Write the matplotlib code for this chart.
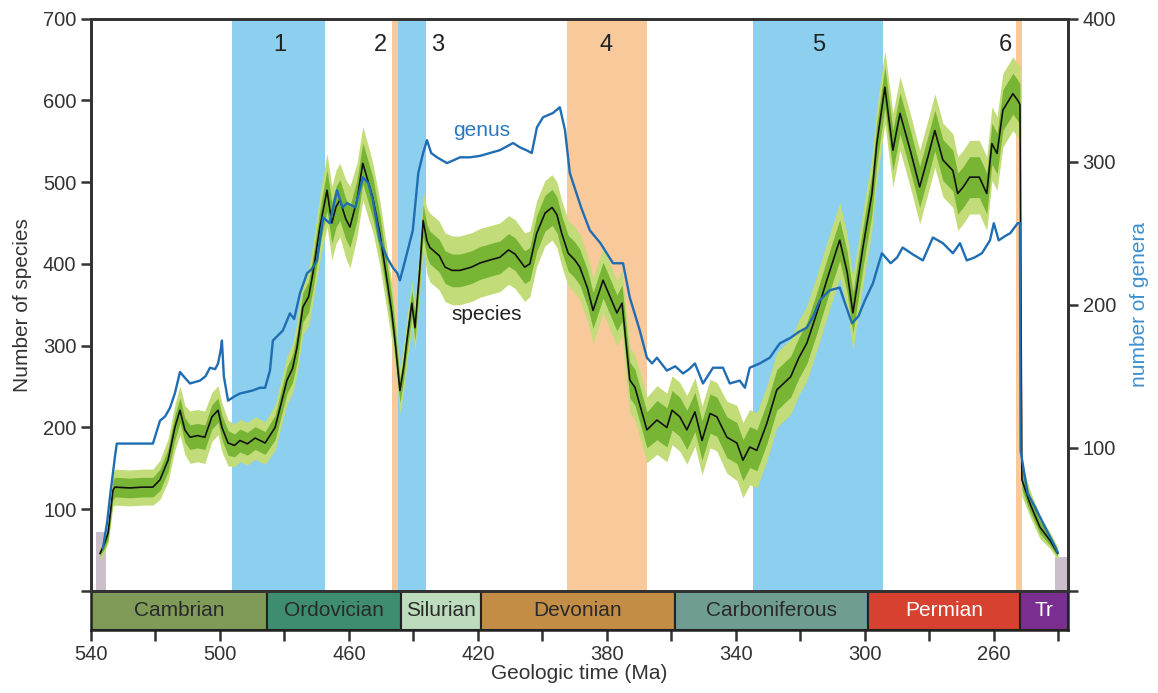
import numpy as np
import matplotlib.pyplot as plt

plt.rcParams['font.family'] = ['Liberation Sans', 'DejaVu Sans']

# Species richness (left axis) with inner / outer confidence half-widths
species_ma = [537.2, 535.8, 534.7, 533.2, 532.6, 528.0, 524.0, 520.8, 518.6, 516.1,
              514.0, 512.4, 510.9, 509.3, 507.0, 504.7, 502.5, 500.6, 499.4, 497.5,
              495.5, 493.8, 491.5, 489.1, 486.0, 482.9, 481.0, 479.2, 477.5, 476.1,
              474.3, 472.5, 471.2, 469.0, 466.8, 465.3, 464.0, 462.8, 461.0, 459.7,
              457.5, 455.7, 454.0, 452.6, 450.4, 448.2, 446.7, 445.5, 444.2, 443.0,
              442.0, 440.5, 439.5, 438.0, 437.0, 435.8, 434.9, 432.0, 430.2, 428.0,
              425.6, 422.0, 419.4, 416.0, 413.2, 410.5, 408.5, 405.5, 403.9, 401.8,
              399.2, 397.0, 395.5, 394.0, 392.0, 390.0, 388.4, 386.0, 384.3, 381.2,
              378.5, 376.9, 375.3, 372.9, 371.3, 367.6, 364.5, 361.4, 359.8, 357.4,
              355.2, 352.7, 350.5, 348.0, 345.9, 342.8, 339.7, 337.8, 335.7, 333.5,
              330.4, 327.3, 323.0, 320.5, 318.0, 314.9, 311.8, 307.8, 305.5, 303.7,
              300.6, 297.8, 296.3, 293.8, 291.3, 289.1, 286.0, 283.0, 280.5, 278.3,
              275.8, 272.7, 271.2, 269.5, 267.5, 264.5, 262.2, 260.6, 259.0, 257.2,
              254.1, 252.6, 251.9, 251.3, 248.8, 245.7, 242.6, 240.2]
species = [46, 58, 71, 123, 127, 126, 127, 127, 136, 160,
           200, 221, 197, 188, 190, 188, 213, 221, 200, 181,
           178, 184, 180, 187, 181, 200, 230, 258, 272, 298,
           347, 360, 388, 445, 490, 450, 470, 478, 455, 445,
           478, 523, 500, 481, 437, 380, 340, 298, 245, 274,
           307, 352, 322, 396, 453, 428, 420, 410, 396, 392,
           392, 396, 401, 405, 408, 417, 412, 396, 400, 437,
           462, 469, 460, 437, 413, 405, 396, 370, 343, 380,
           355, 340, 352, 258, 249, 197, 209, 200, 221, 213,
           197, 219, 184, 217, 213, 188, 181, 160, 176, 172,
           205, 246, 262, 285, 303, 340, 380, 429, 390, 340,
           420, 486, 547, 616, 539, 584, 540, 494, 530, 563,
           527, 514, 486, 494, 506, 506, 486, 547, 535, 588,
           608, 600, 595, 136, 107, 78, 62, 46]
species_dark = [4, 6, 8, 12, 12, 12, 12, 12, 13, 14,
                15, 15, 15, 15, 15, 15, 15, 15, 15, 15,
                14, 14, 14, 14, 14, 15, 16, 16, 17, 18,
                18, 19, 20, 22, 25, 25, 25, 25, 25, 25,
                25, 25, 25, 25, 22, 20, 20, 18, 15, 15,
                15, 16, 16, 18, 20, 20, 20, 20, 20, 20,
                20, 20, 20, 20, 20, 20, 20, 20, 20, 22,
                22, 22, 22, 22, 22, 22, 22, 22, 22, 22,
                22, 22, 22, 22, 22, 22, 24, 24, 24, 24,
                24, 24, 24, 24, 24, 25, 25, 25, 25, 25,
                25, 25, 25, 25, 25, 25, 25, 25, 25, 25,
                25, 25, 25, 25, 25, 25, 25, 25, 25, 25,
                25, 25, 25, 25, 25, 25, 25, 25, 25, 25,
                25, 25, 25, 12, 10, 8, 6, 4]
species_light = [8, 10, 12, 20, 22, 22, 22, 22, 24, 26,
                 28, 30, 30, 32, 32, 32, 30, 30, 30, 28,
                 26, 26, 26, 26, 26, 28, 28, 30, 30, 32,
                 34, 35, 36, 40, 45, 45, 45, 45, 48, 50,
                 45, 45, 44, 42, 40, 38, 35, 32, 28, 28,
                 28, 28, 28, 30, 35, 40, 42, 42, 42, 42,
                 42, 42, 42, 42, 42, 42, 42, 42, 40, 40,
                 40, 40, 40, 40, 40, 40, 40, 40, 40, 40,
                 40, 40, 40, 40, 40, 40, 42, 42, 42, 42,
                 42, 42, 42, 42, 42, 44, 46, 46, 46, 46,
                 46, 46, 46, 46, 46, 46, 46, 46, 46, 45,
                 45, 45, 45, 45, 45, 45, 45, 45, 45, 45,
                 45, 45, 45, 45, 45, 45, 45, 45, 45, 45,
                 45, 45, 45, 20, 16, 14, 10, 8]

# Genus richness (right axis)
genus_ma = [536.3, 535.0, 534.0, 532.5, 532.0, 526.0, 520.8, 518.6, 517.0, 515.5,
            514.0, 512.4, 510.5, 509.3, 506.2, 504.5, 503.1, 501.5, 500.6, 499.8,
            499.4, 498.8, 497.5, 495.5, 493.8, 490.0, 487.6, 486.0, 484.5, 483.6,
            480.5, 478.3, 477.0, 475.2, 473.0, 471.5, 469.9, 468.0, 466.0, 463.7,
            462.0, 460.6, 458.0, 455.7, 454.0, 452.6, 450.4, 448.2, 446.4, 445.0,
            444.2, 442.0, 440.2, 438.5, 437.0, 435.8, 434.5, 432.7, 429.6, 427.5,
            425.6, 422.5, 419.4, 416.3, 413.2, 409.1, 407.0, 405.0, 403.3, 401.7,
            399.8, 396.7, 394.6, 393.0, 391.5, 388.0, 385.3, 382.0, 378.1, 375.0,
            372.9, 369.8, 367.6, 366.0, 364.5, 361.4, 358.8, 356.4, 354.5, 352.7,
            350.2, 347.1, 344.0, 341.9, 338.8, 337.2, 335.7, 332.6, 329.5, 326.4,
            323.0, 320.5, 318.0, 316.0, 314.0, 311.0, 307.8, 306.0, 304.0, 302.0,
            300.0, 297.5, 295.4, 294.7, 292.0, 290.0, 288.3, 285.0, 282.0, 278.9,
            275.8, 272.7, 270.5, 268.4, 266.0, 263.7, 261.2, 260.0, 258.5, 256.5,
            254.9, 252.6, 251.9, 251.7, 249.5, 247.3, 244.2, 241.0, 240.2]
genus = [30, 48, 68, 95, 103, 103, 103, 119, 122, 128,
         138, 153, 148, 145, 147, 150, 156, 155, 159, 168,
         175, 150, 133, 136, 138, 140, 142, 142, 154, 175,
         182, 194, 190, 208, 222, 225, 231, 261, 257, 280,
         268, 271, 268, 289, 285, 273, 245, 233, 226, 222,
         217, 236, 252, 292, 306, 315, 306, 303, 299, 301,
         303, 303, 304, 306, 308, 313, 310, 308, 306, 324,
         331, 334, 338, 322, 292, 268, 252, 243, 229, 229,
         205, 182, 163, 159, 163, 154, 157, 152, 155, 159,
         145, 156, 156, 145, 147, 142, 156, 159, 163, 173,
         177, 181, 184, 192, 203, 210, 212, 200, 187, 192,
         203, 215, 231, 236, 229, 233, 240, 235, 231, 247,
         243, 236, 243, 231, 233, 236, 245, 257, 245, 248,
         250, 257, 257, 98, 68, 59, 45, 31, 27]

# Numbered event intervals
event_start = [496.4, 446.8, 444.7, 392.5, 334.8, 253.0]
event_end = [467.4, 444.7, 436.2, 367.7, 294.3, 251.4]
event_kind = ['blue', 'orange', 'blue', 'orange', 'blue', 'orange']
event_labels = ['1', '2', '3', '4', '5', '6']
event_label_ma = [481.5, 450.2, 432.6, 380.2, 314.4, 256.3]

# Grey boxes at both ends
grey_start = [538.4, 241.1]
grey_end = [535.3, 237.4]
grey_height = [72, 42]

# Geologic periods
periods = ['Cambrian', 'Ordovician', 'Silurian', 'Devonian', 'Carboniferous', 'Permian', 'Tr']
period_start = [540, 485.4, 443.8, 419.2, 358.9, 298.9, 251.9]
period_end = [485.4, 443.8, 419.2, 358.9, 298.9, 251.9, 237.0]
period_colors = ['#809a58', '#3f8d70', '#bddbbd', '#c38d45', '#6f9d92', '#d6422f', '#7a2e90']
period_text = ['#2a2a2a', '#2a2a2a', '#2a2a2a', '#2a2a2a', '#2a2a2a', 'white', 'white']

x_ticks = list(range(540, 235, -20))
x_labels = ['540', '', '500', '', '460', '', '420', '', '380', '', '340', '', '300', '', '260', '']

band_colors = {'blue': '#8ccfee', 'orange': '#f8c99b'}
spine_col = '#333333'

fig = plt.figure(figsize=(11.58, 6.93), dpi=100)
W, H = 1158, 693
ax = fig.add_axes([91 / W, (H - 591) / H, (1068 - 91) / W, (591 - 18.5) / H])
axp = fig.add_axes([91 / W, (H - 630) / H, (1068 - 91) / W, 39 / H], sharex=ax)

# event intervals behind everything
for s, e, k in zip(event_start, event_end, event_kind):
    ax.axvspan(s, e, color=band_colors[k], lw=0, zorder=0)
for lab, xm in zip(event_labels, event_label_ma):
    ax.text(xm, 667, lab, ha='center', va='center', fontsize=17, color='#222222')

for s, e, h in zip(grey_start, grey_end, grey_height):
    ax.bar(e, h, width=s - e, align='edge', color='#cbbfcb', lw=0, zorder=1)

sp_ma = np.array(species_ma)
sp = np.array(species)
dk = np.array(species_dark)
lt = np.array(species_light)
ax.fill_between(sp_ma, sp - lt, sp + lt, color='#c2dc7a', lw=0, zorder=2)
ax.fill_between(sp_ma, sp - dk, sp + dk, color='#79b535', lw=0, zorder=3)
ax.plot(sp_ma, sp, color='#111111', lw=1.2, zorder=4)

ax.set_xlim(540, 237)
ax.set_ylim(0, 700)
ax.set_yticks([0, 100, 200, 300, 400, 500, 600, 700])
ax.set_yticklabels(['', '100', '200', '300', '400', '500', '600', '700'])
ax.set_ylabel('Number of species', fontsize=15, color='#333333', labelpad=8)
ax.tick_params(axis='x', bottom=False, labelbottom=False)
ax.tick_params(axis='y', direction='out', length=7, width=1.8, color=spine_col,
               labelsize=14.5, labelcolor='#333333')

ax.text(418.8, 563, 'genus', ha='center', va='center', fontsize=15, color='#2a78c0')
ax.text(417.2, 338, 'species', ha='center', va='center', fontsize=15, color='#222222')

# genus on the right axis
ax2 = ax.twinx()
ax2.plot(genus_ma, genus, color='#1f6db3', lw=1.7, zorder=5)
ax2.set_ylim(0, 400)
ax2.set_yticks([0, 100, 200, 300, 400])
ax2.set_yticklabels(['', '100', '200', '300', '400'])
ax2.set_ylabel('number of genera', fontsize=15, color='#3d8fd0', labelpad=10)
ax2.tick_params(axis='y', direction='out', length=7, width=1.8, color=spine_col,
                labelsize=14.5, labelcolor='#333333')

for a in (ax, ax2):
    for side in ('left', 'right', 'top', 'bottom'):
        a.spines[side].set_color(spine_col)
        a.spines[side].set_linewidth(2)

# period bar
for name, s, e, c, tc in zip(periods, period_start, period_end, period_colors, period_text):
    axp.barh(0, s - e, left=e, height=1, color=c, edgecolor='#222222', lw=1.5)
    axp.text((s + e) / 2, 0, name, ha='center', va='center', fontsize=15, color=tc)
axp.set_ylim(-0.5, 0.5)
axp.set_yticks([])
axp.set_xticks(x_ticks)
axp.set_xticklabels(x_labels)
axp.set_xlim(540, 237)
axp.tick_params(axis='x', direction='out', length=8, width=1.8, color=spine_col,
                labelsize=14.5, labelcolor='#333333', pad=3)
for side in ('left', 'right', 'top', 'bottom'):
    axp.spines[side].set_color('#222222')
    axp.spines[side].set_linewidth(1.8)
axp.set_xlabel('Geologic time (Ma)', fontsize=15, color='#333333', labelpad=0)

fig.savefig('out.png', dpi=100)
